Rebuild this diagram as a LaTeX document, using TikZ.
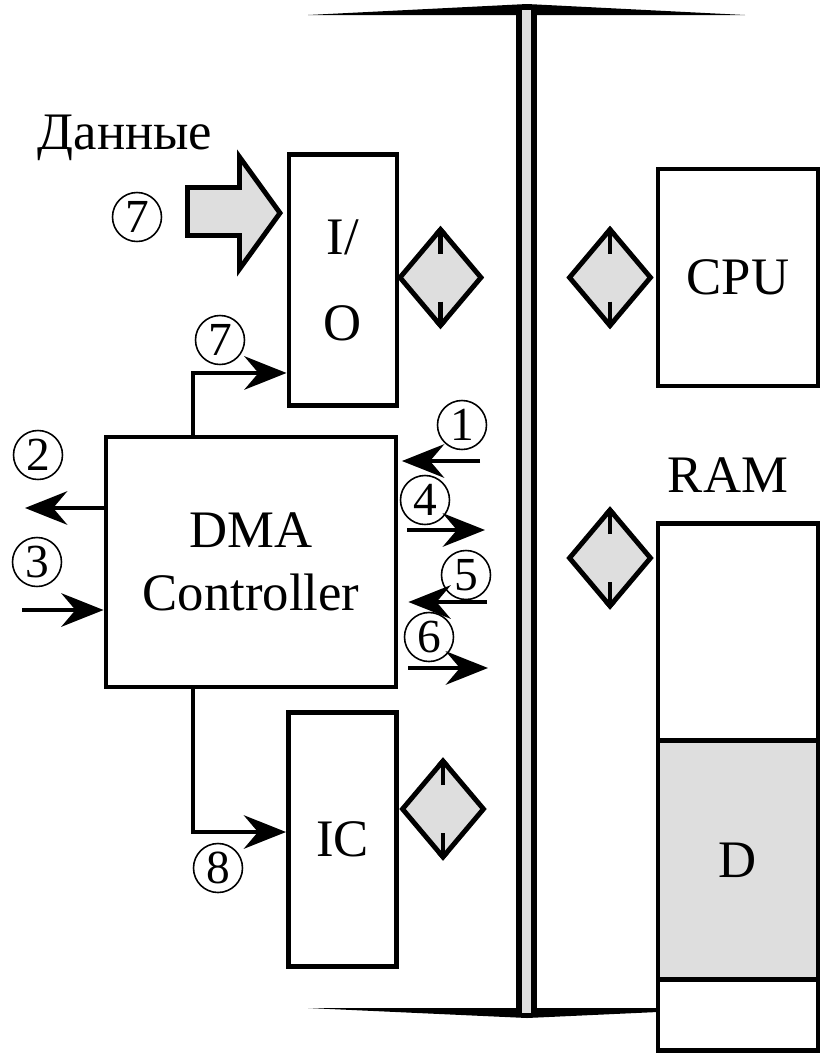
\documentclass[tikz,border=0pt]{standalone}
\usepackage{fontspec}
\setmainfont{Liberation Serif}
\usetikzlibrary{arrows.meta,shapes.geometric}
\definecolor{busgray}{gray}{0.87}
\begin{document}
\begin{tikzpicture}[x=0.02cm,y=-0.02cm,
  box/.style={draw,line width=2.8pt,fill=white,inner sep=0pt},
  lbl/.style={font=\fontsize{30}{36}\selectfont},
  num/.style={circle,draw,line width=0.9pt,inner sep=0pt,minimum size=0.98cm,font=\fontsize{27}{27}\selectfont},
  sig/.style={line width=2.6pt,-{Stealth[length=24pt,width=19pt,inset=8pt]}},
  xch/.style={diamond,draw,line width=2.8pt,fill=busgray,inner sep=0pt,minimum width=1.66cm,minimum height=1.96cm},
  stub/.style={line width=2.8pt,-{Stealth[length=4pt,width=7pt]}}]
  \useasboundingbox (0,0) rectangle (821,1056);
  \fill (308,15) -- (527,4) -- (745,15) -- cycle;
  \fill (308,1008) -- (527,1018) -- (745,1008) -- cycle;
  \fill[busgray] (521,10) rectangle (532,1013);
  \draw[line width=3.4pt] (519,10) -- (519,1013) (534,10) -- (534,1013);
  \node[box,lbl,align=center,minimum width=2.16cm,minimum height=5.02cm] (io) at (343,280) {I/\\[13pt]O};
  \node[box,lbl,minimum width=2.16cm,minimum height=5.08cm] (ic) at (342.5,839.5) {IC};
  \node[box,lbl,align=center,minimum width=5.8cm,minimum height=5cm] (dma) at (251,562) {DMA\\Controller};
  \node[box,lbl,minimum width=3.2cm,minimum height=4.34cm] (cpu) at (738,277.5) {CPU};
  \node[lbl] (ramlbl) at (728,475) {RAM};
  \node[box,minimum width=3.2cm,minimum height=4.35cm] (ramtop) at (738,632) {};
  \node[box,lbl,fill=busgray,minimum width=3.2cm,minimum height=4.77cm] (ramd) at (738,860) {D};
  \node[box,minimum width=3.2cm,minimum height=1.41cm] (rambot) at (738,1015) {};
  \node[xch] (d1) at (440.5,277.5) {};
  \node[xch] (d2) at (610,277.5) {};
  \node[xch] (d3) at (610,558) {};
  \node[xch] (d4) at (443,809) {};
  \foreach \d in {d1,d2,d3,d4} {
    \draw[stub] ([yshift=0.48cm]\d.center) -- (\d.north);
    \draw[stub] ([yshift=-0.48cm]\d.center) -- (\d.south);
  }
  \draw[line width=2.8pt,fill=busgray,line join=miter] (187.5,187.5) -- (239.5,187.5) -- (239.5,157) -- (280,213) -- (239.5,269) -- (239.5,235.5) -- (187.5,235.5) -- cycle;
  \node[lbl] (data) at (125,138) {Данные};
  \node[num] (n7a) at (137,217) {7};
  \node[num] (n7b) at (220,340) {7};
  \node[num] (n8) at (218,868) {8};
  \node[num] (n1) at (462,425) {1};
  \node[num] (n4) at (425,500) {4};
  \node[num] (n5) at (466,575) {5};
  \node[num] (n6) at (429,637) {6};
  \node[num] (n2) at (38,455) {2};
  \node[num] (n3) at (37,562) {3};
  \coordinate (a1) at (480,461);
  \coordinate (a4) at (485,530);
  \coordinate (a5) at (487,602);
  \coordinate (a6) at (488,668);
  \coordinate (a2) at (25,508);
  \coordinate (a3) at (22,610);
  \coordinate (tap) at (193,0);
  \draw[sig] (a1) -- ([xshift=0.07cm]a1 -| dma.east);
  \draw[sig] ([xshift=0.18cm]a4 -| dma.east) -- (a4);
  \draw[sig] (a5) -- ([xshift=0.2cm]a5 -| dma.east);
  \draw[sig] ([xshift=0.2cm]a6 -| dma.east) -- (a6);
  \draw[sig] (a2 -| dma.west) -- (a2);
  \draw[sig] (a3) -- (a3 -| dma.west);
  \draw[sig] (tap |- dma.north) |- ([yshift=-1.86cm]io.west);
  \draw[sig] (tap |- dma.south) |- ([yshift=0.15cm]ic.west);
\end{tikzpicture}
\end{document}
